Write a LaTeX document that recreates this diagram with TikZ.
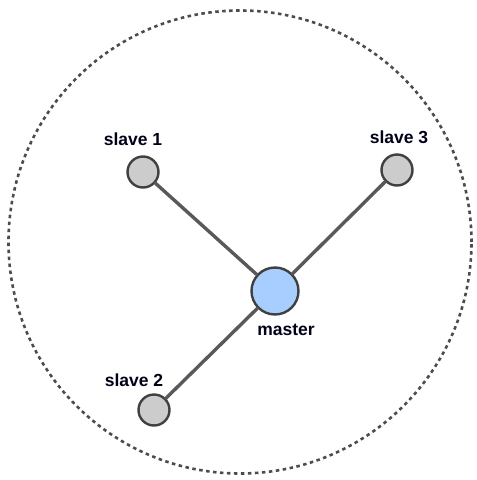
\documentclass[tikz,border=0pt]{standalone}
\usepackage{fontspec}
\setmainfont{Liberation Sans}
\usepackage{tikz}

\definecolor{masterblue}{RGB}{168,206,255}

\begin{document}
\begin{tikzpicture}[
      x=1pt, y=-1pt,
      slavenode/.style={circle, draw=black!75, line width=2.4pt, fill=black!20,
        minimum size=31pt, inner sep=0pt},
      masternode/.style={circle, draw=black!75, line width=2.4pt, fill=masterblue,
        minimum size=47pt, inner sep=0pt},
      tag/.style={font=\fontsize{17.5}{19}\selectfont\bfseries, text=black!90!blue, inner sep=0pt},
      link/.style={line width=3.4pt, draw=black!65, line cap=round},
      ring/.style={draw=black!70, line width=2.6pt, dash pattern=on 3.5pt off 3.5pt}
    ]
    \useasboundingbox (0,0) rectangle (477,480);

    \node[ring, circle, minimum size=463pt, inner sep=0pt] (cluster) at (240,242) {};

    \node[masternode] (master) at (275,291) {};
    \node[slavenode] (slave1) at (143,172) {};
    \node[slavenode] (slave3) at (397,170) {};
    \node[slavenode] (slave2) at (154,410) {};

    \node[tag] (mastertag) at (286,330) {master};
    \node[tag] (slave1tag) at (133,139) {slave 1};
    \node[tag] (slave3tag) at (399,137) {slave 3};
    \node[tag] (slave2tag) at (134,380) {slave 2};

    \draw[link] (slave1) -- (master);
    \draw[link] (slave3) -- (master);
    \draw[link] (slave2) -- (master);
  \end{tikzpicture}
\end{document}
